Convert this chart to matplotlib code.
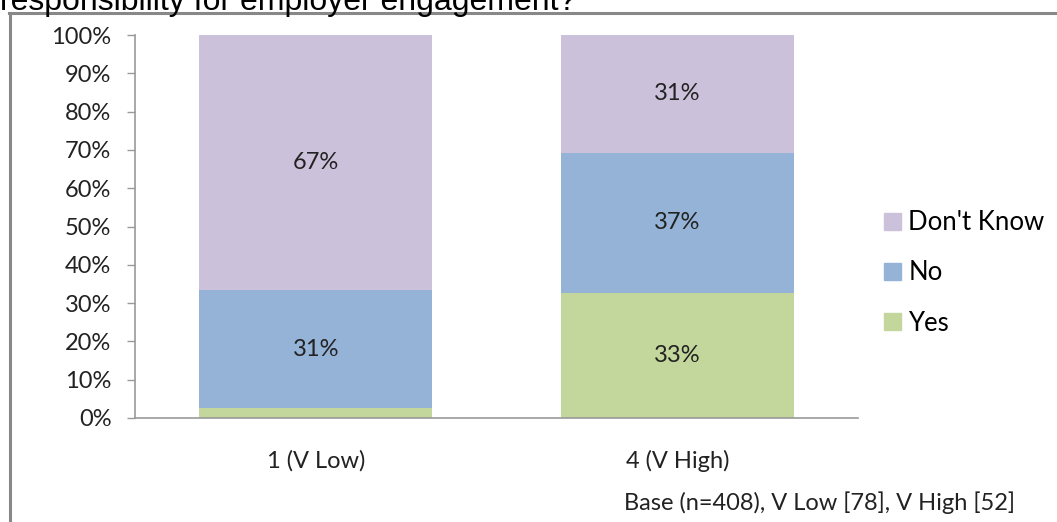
import matplotlib.pyplot as plt
from matplotlib.lines import Line2D
from matplotlib.patches import Patch

# data (percent of each group)
groups = ["1 (V Low)", "4 (V High)"]
yes = [2.6, 32.7]
no = [30.8, 36.5]
dont_know = [66.6, 30.8]
yes_labels = ["", "33%"]
no_labels = ["31%", "37%"]
dk_labels = ["67%", "31%"]
yticks = [0, 10, 20, 30, 40, 50, 60, 70, 80, 90, 100]

c_yes = "#C3D69B"
c_no = "#95B3D7"
c_dk = "#CCC1DA"
txt = "#222222"
fs = 17

plt.rcParams["font.family"] = ["Lato", "DejaVu Sans"]

W, H = 1057, 522
fig = plt.figure(figsize=(W / 100, H / 100), dpi=100)
ax = fig.add_axes([135 / W, 1 - 418 / H, (858 - 135) / W, (418 - 35) / H])

x = range(len(groups))
width = 0.645
ax.bar(x, yes, width, color=c_yes, label="Yes")
ax.bar(x, no, width, bottom=yes, color=c_no, label="No")
bottom2 = [a + b for a, b in zip(yes, no)]
ax.bar(x, dont_know, width, bottom=bottom2, color=c_dk, label="Don't Know")

for i in x:
    if yes_labels[i]:
        ax.text(i, yes[i] / 2, yes_labels[i], ha="center", va="center", fontsize=fs, color=txt)
    ax.text(i, yes[i] + no[i] / 2, no_labels[i], ha="center", va="center", fontsize=fs, color=txt)
    ax.text(i, bottom2[i] + dont_know[i] / 2, dk_labels[i], ha="center", va="center", fontsize=fs, color=txt)

ax.set_xlim(-0.5, 1.5)
ax.set_ylim(0, 100)
ax.set_yticks(yticks)
ax.set_yticklabels([f"{t}%" for t in yticks], fontsize=fs, color=txt)
ax.set_xticks(list(x))
ax.set_xticklabels(groups, fontsize=fs, color=txt)
ax.tick_params(axis="x", length=0, pad=23)
ax.tick_params(axis="y", length=6, width=1, color="#999999", pad=11)
for side in ["top", "right"]:
    ax.spines[side].set_visible(False)
for side in ["left", "bottom"]:
    ax.spines[side].set_color("#999999")
    ax.spines[side].set_linewidth(1.2)

handles = [Patch(color=c_dk, label="Don't Know"),
           Patch(color=c_no, label="No"),
           Patch(color=c_yes, label="Yes")]
fig.legend(handles=handles, loc="center left", bbox_to_anchor=(871 / W, 1 - 273 / H),
           frameon=False, fontsize=18.5, handlelength=0.65, handleheight=0.65,
           handletextpad=0.3, labelspacing=0.98, borderpad=0)

fig.text(1015 / W, 1 - 503 / H, "Base (n=408), V Low [78], V High [52]",
         ha="right", va="center", fontsize=fs, color=txt)

# cut-off question text and outer chart frame
fig.text(0, 1 - 10 / H, "responsibility for employer engagement?",
         ha="left", va="baseline", fontsize=23, family="Liberation Sans", color="black")
fig.add_artist(Line2D([9.5 / W, 9.5 / W], [0, 1 - 13 / H], color="#888888", lw=2.2))
fig.add_artist(Line2D([9 / W, 1], [1 - 13 / H, 1 - 13 / H], color="#888888", lw=2.2))

fig.savefig("out.png", dpi=100)
